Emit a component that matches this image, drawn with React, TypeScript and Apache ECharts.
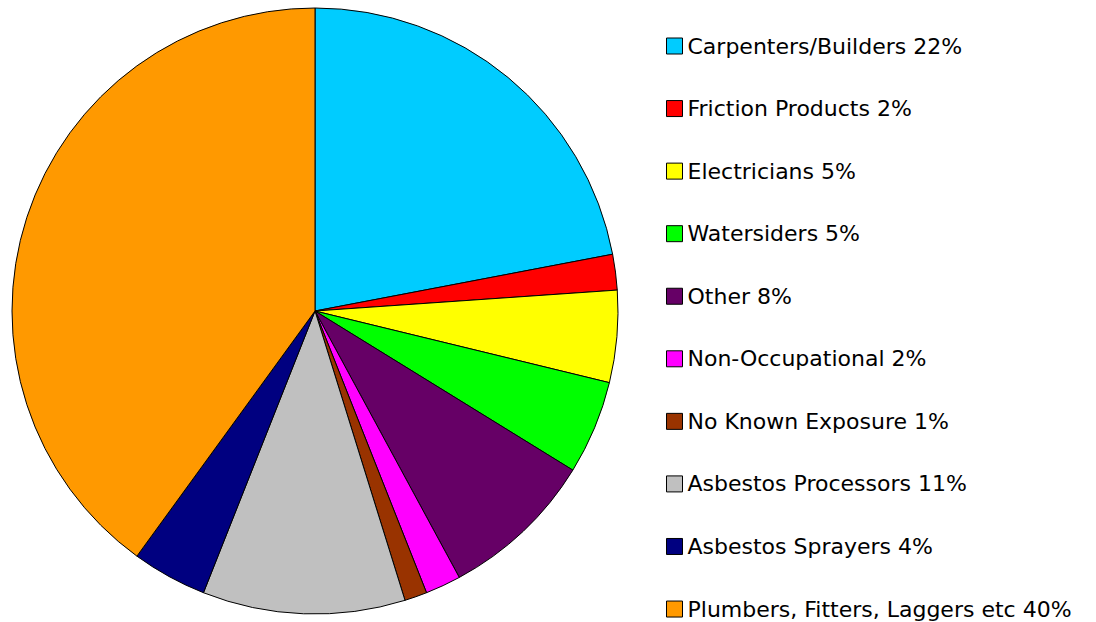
import React, { useEffect, useRef } from "react";
import * as echarts from "echarts";

const categories = [
  "Carpenters/Builders 22%",
  "Friction Products 2%",
  "Electricians 5%",
  "Watersiders 5%",
  "Other 8%",
  "Non-Occupational 2%",
  "No Known Exposure 1%",
  "Asbestos Processors 11%",
  "Asbestos Sprayers 4%",
  "Plumbers, Fitters, Laggers etc 40%",
];
const values = [22.0, 1.9, 4.9, 5.0, 8.3, 1.9, 1.2, 10.8, 4.0, 40.0];
const colors = [
  "#00CCFF",
  "#FF0000",
  "#FFFF00",
  "#00FF00",
  "#660066",
  "#FF00FF",
  "#993300",
  "#C0C0C0",
  "#000080",
  "#FF9900",
];

export default function App() {
  const ref = useRef<HTMLDivElement>(null);
  useEffect(() => {
    if (!ref.current) return;
    const chart = echarts.init(ref.current, null, { renderer: "svg" });
    chart.setOption({
      animation: false,
      backgroundColor: "#ffffff",
      color: colors,
      legend: {
        orient: "vertical",
        left: 666,
        top: 35,
        height: 600,
        padding: 0,
        icon: "rect",
        itemWidth: 16,
        itemHeight: 16,
        itemGap: 40.56,
        selectedMode: false,
        itemStyle: { borderColor: "#000", borderWidth: 1 },
        textStyle: {
          fontFamily: "DejaVu Sans",
          fontSize: 22,
          lineHeight: 22,
          color: "#000",
        },
        data: categories,
      },
      series: [
        {
          type: "pie",
          center: [315, 311],
          radius: [0, 303],
          startAngle: 90,
          clockwise: true,
          label: { show: false },
          labelLine: { show: false },
          emphasis: { disabled: true },
          itemStyle: { borderColor: "#000", borderWidth: 1 },
          data: categories.map((name, i) => ({ name, value: values[i] })),
        },
      ],
    });
    return () => chart.dispose();
  }, []);
  return (
    <div
      ref={ref}
      style={{ position: "fixed", left: 0, top: 0, width: 1096, height: 622 }}
    />
  );
}
